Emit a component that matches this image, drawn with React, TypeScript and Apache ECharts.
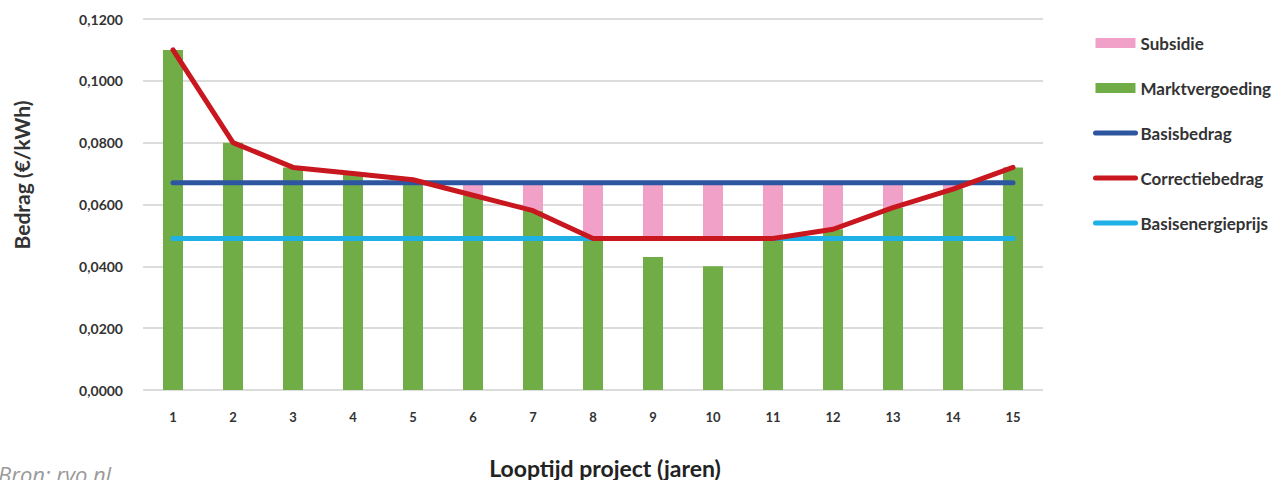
import React, { useEffect, useRef } from "react";
import * as echarts from "echarts";

const categories = ["1", "2", "3", "4", "5", "6", "7", "8", "9", "10", "11", "12", "13", "14", "15"];
const marktvergoeding = [0.110, 0.080, 0.072, 0.070, 0.068, 0.063, 0.058, 0.049, 0.043, 0.040, 0.049, 0.052, 0.059, 0.065, 0.072];
const subsidie = [0, 0, 0, 0, 0, 0.004, 0.009, 0.018, 0.018, 0.018, 0.018, 0.015, 0.008, 0.002, 0];
const basisbedrag = [0.067, 0.067, 0.067, 0.067, 0.067, 0.067, 0.067, 0.067, 0.067, 0.067, 0.067, 0.067, 0.067, 0.067, 0.067];
const correctiebedrag = [0.110, 0.080, 0.072, 0.070, 0.068, 0.063, 0.058, 0.049, 0.049, 0.049, 0.049, 0.052, 0.059, 0.065, 0.072];
const basisenergieprijs = [0.049, 0.049, 0.049, 0.049, 0.049, 0.049, 0.049, 0.049, 0.049, 0.049, 0.049, 0.049, 0.049, 0.049, 0.049];
const yMin = 0;
const yMax = 0.12;
const yInterval = 0.02;

const FONT = "Lato";

const lineLegend = (name: string) => ({
  name,
  itemStyle: { opacity: 0 },
  lineStyle: { width: 5, cap: "round" },
});

export default function App() {
  const ref = useRef<HTMLDivElement>(null);
  useEffect(() => {
    if (!ref.current) return;
    const chart = echarts.init(ref.current, null, { renderer: "svg" });
    chart.setOption({
      animation: false,
      backgroundColor: "#ffffff",
      grid: { left: 143, right: 233, top: 19, bottom: 90, containLabel: false },
      legend: {
        orient: "vertical",
        left: 1088,
        top: 28,
        itemWidth: 40,
        itemHeight: 10,
        itemGap: 25,
        textStyle: { fontFamily: FONT, fontWeight: "bold", fontSize: 17, color: "#333333", lineHeight: 20 },
        data: [
          { name: "Subsidie", icon: "rect" },
          { name: "Marktvergoeding", icon: "rect" },
          lineLegend("Basisbedrag"),
          lineLegend("Correctiebedrag"),
          lineLegend("Basisenergieprijs"),
        ],
      },
      xAxis: {
        type: "category",
        data: categories,
        axisLine: { show: false },
        axisTick: { show: false },
        axisLabel: { margin: 20, fontFamily: FONT, fontWeight: "bold", fontSize: 13, color: "#333333" },
        splitLine: { show: false },
      },
      yAxis: {
        type: "value",
        min: yMin,
        max: yMax,
        interval: yInterval,
        axisLine: { show: false },
        axisTick: { show: false },
        axisLabel: {
          margin: 20,
          fontFamily: FONT,
          fontWeight: "bold",
          fontSize: 14,
          color: "#333333",
          formatter: (v: number) => v.toFixed(4).replace(".", ","),
        },
        splitLine: { lineStyle: { color: "#DCDCDC", width: 2 } },
      },
      graphic: [
        {
          type: "text",
          x: 21,
          y: 175,
          rotation: Math.PI / 2,
          style: {
            text: "Bedrag (€/kWh)",
            fontFamily: FONT,
            fontWeight: "bold",
            fontSize: 21,
            fill: "#333333",
            align: "center",
            verticalAlign: "middle",
          },
        },
        {
          type: "text",
          x: 605,
          y: 468,
          style: {
            text: "Looptijd project (jaren)",
            fontFamily: FONT,
            fontWeight: "bold",
            fontSize: 23,
            fill: "#222222",
            align: "center",
            verticalAlign: "middle",
          },
        },
        {
          type: "text",
          x: -2,
          y: 474,
          style: {
            text: "Bron: rvo.nl",
            fontFamily: "Open Sans",
            fontStyle: "italic",
            fontWeight: "normal",
            fontSize: 22,
            fill: "#9A9A9A",
            align: "left",
            verticalAlign: "middle",
          },
        },
      ],
      series: [
        {
          name: "Marktvergoeding",
          type: "bar",
          data: marktvergoeding,
          barWidth: 20,
          barGap: "-100%",
          itemStyle: { color: "#70AD47" },
          z: 2,
        },
        {
          name: "base",
          type: "bar",
          stack: "sub",
          data: correctiebedrag,
          barWidth: 20,
          barGap: "-100%",
          itemStyle: { color: "transparent" },
          silent: true,
          z: 1,
        },
        {
          name: "Subsidie",
          type: "bar",
          stack: "sub",
          data: subsidie,
          barWidth: 20,
          barGap: "-100%",
          itemStyle: { color: "#F1A1C8" },
          z: 3,
        },
        {
          name: "Basisbedrag",
          type: "line",
          data: basisbedrag,
          symbol: "none",
          lineStyle: { color: "#2E55A0", width: 5, cap: "round" },
          itemStyle: { color: "#2E55A0" },
          z: 4,
        },
        {
          name: "Basisenergieprijs",
          type: "line",
          data: basisenergieprijs,
          symbol: "none",
          lineStyle: { color: "#1FB0E6", width: 5, cap: "round" },
          itemStyle: { color: "#1FB0E6" },
          z: 4,
        },
        {
          name: "Correctiebedrag",
          type: "line",
          data: correctiebedrag,
          symbol: "none",
          lineStyle: { color: "#C8171E", width: 5, cap: "round", join: "round" },
          itemStyle: { color: "#C8171E" },
          z: 5,
        },
      ],
    });
    return () => chart.dispose();
  }, []);
  return (
    <div
      ref={ref}
      style={{ position: "fixed", left: 0, top: 0, width: 1276, height: 480 }}
    />
  );
}
